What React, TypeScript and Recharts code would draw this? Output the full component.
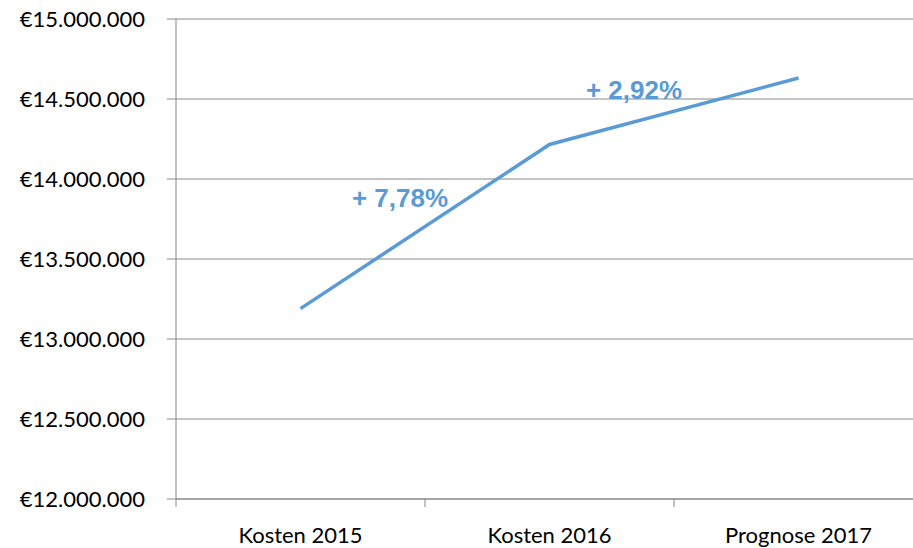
import { LineChart, Line, XAxis, YAxis, CartesianGrid, ReferenceDot, Label } from 'recharts'

const categories = ['Kosten 2015', 'Kosten 2016', 'Prognose 2017']
const costs = [13190000, 14216000, 14631000]
const yTicks = [12000000, 12500000, 13000000, 13500000, 14000000, 14500000, 15000000]
const growthLabels = ['+ 7,78%', '+ 2,92%']

// label offsets from each segment's midpoint, in px
const labelOffsets = [
  { dx: -25, dy: -20 },
  { dx: -40, dy: -12 },
]

const BLUE = '#5b9bd5'
const GRID = '#868686'
const FONT = 'Lato, "Open Sans", sans-serif'

const data = costs.map((value, i) => ({ x: i + 0.5, name: categories[i], value }))

function euro(n: number): string {
  return '€' + String(n).replace(/\B(?=(\d{3})+(?!\d))/g, '.')
}

export default function App() {
  return (
    <div style={{ position: 'absolute', left: 0, top: 0, width: 913, height: 548, overflow: 'hidden', background: '#fff' }}>
      <LineChart width={925} height={548} data={data} margin={{ top: 19, right: 2, left: 0, bottom: 0 }}>
        <CartesianGrid vertical={false} stroke={GRID} xAxisId="grid" />
        <XAxis
          xAxisId="grid"
          type="number"
          dataKey="x"
          domain={[0, 3]}
          ticks={[0, 1, 2, 3]}
          tickFormatter={() => ''}
          tickSize={8}
          height={8}
          stroke={GRID}
          axisLine={{ stroke: GRID }}
          tickLine={{ stroke: GRID }}
        />
        <XAxis
          xAxisId="labels"
          type="number"
          dataKey="x"
          domain={[0, 3]}
          ticks={[0.5, 1.5, 2.5]}
          tickFormatter={(v: number) => categories[Math.floor(v)]}
          axisLine={false}
          tickLine={false}
          tickMargin={14}
          height={41}
          tick={{ fill: '#000', fontSize: 22, fontFamily: FONT }}
        />
        <YAxis
          domain={[12000000, 15000000]}
          ticks={yTicks}
          tickFormatter={euro}
          width={176}
          tickSize={9}
          tickMargin={22}
          axisLine={{ stroke: GRID }}
          tickLine={{ stroke: GRID }}
          tick={{ fill: '#000', fontSize: 22, fontFamily: FONT }}
          interval={0}
        />
        <Line
          xAxisId="labels"
          type="linear"
          dataKey="value"
          stroke={BLUE}
          strokeWidth={3.5}
          dot={false}
          activeDot={false}
          isAnimationActive={false}
        />
        {growthLabels.map((text, i) => (
          <ReferenceDot
            key={text}
            xAxisId="labels"
            x={i + 1}
            y={(costs[i] + costs[i + 1]) / 2}
            r={0}
            fill="none"
            stroke="none"
          >
            <Label
              content={(props: any) => {
                const vb = props.viewBox || {}
                const cx = (vb.x ?? 0) + (vb.width ?? 0) / 2
                const cy = (vb.y ?? 0) + (vb.height ?? 0) / 2
                return (
                  <text
                    x={cx + labelOffsets[i].dx}
                    y={cy + labelOffsets[i].dy}
                    textAnchor="middle"
                    fill={BLUE}
                    fontSize={26}
                    fontWeight="bold"
                    fontFamily='"Liberation Sans", Arial, sans-serif'
                  >
                    {text}
                  </text>
                )
              }}
            />
          </ReferenceDot>
        ))}
      </LineChart>
    </div>
  )
}
